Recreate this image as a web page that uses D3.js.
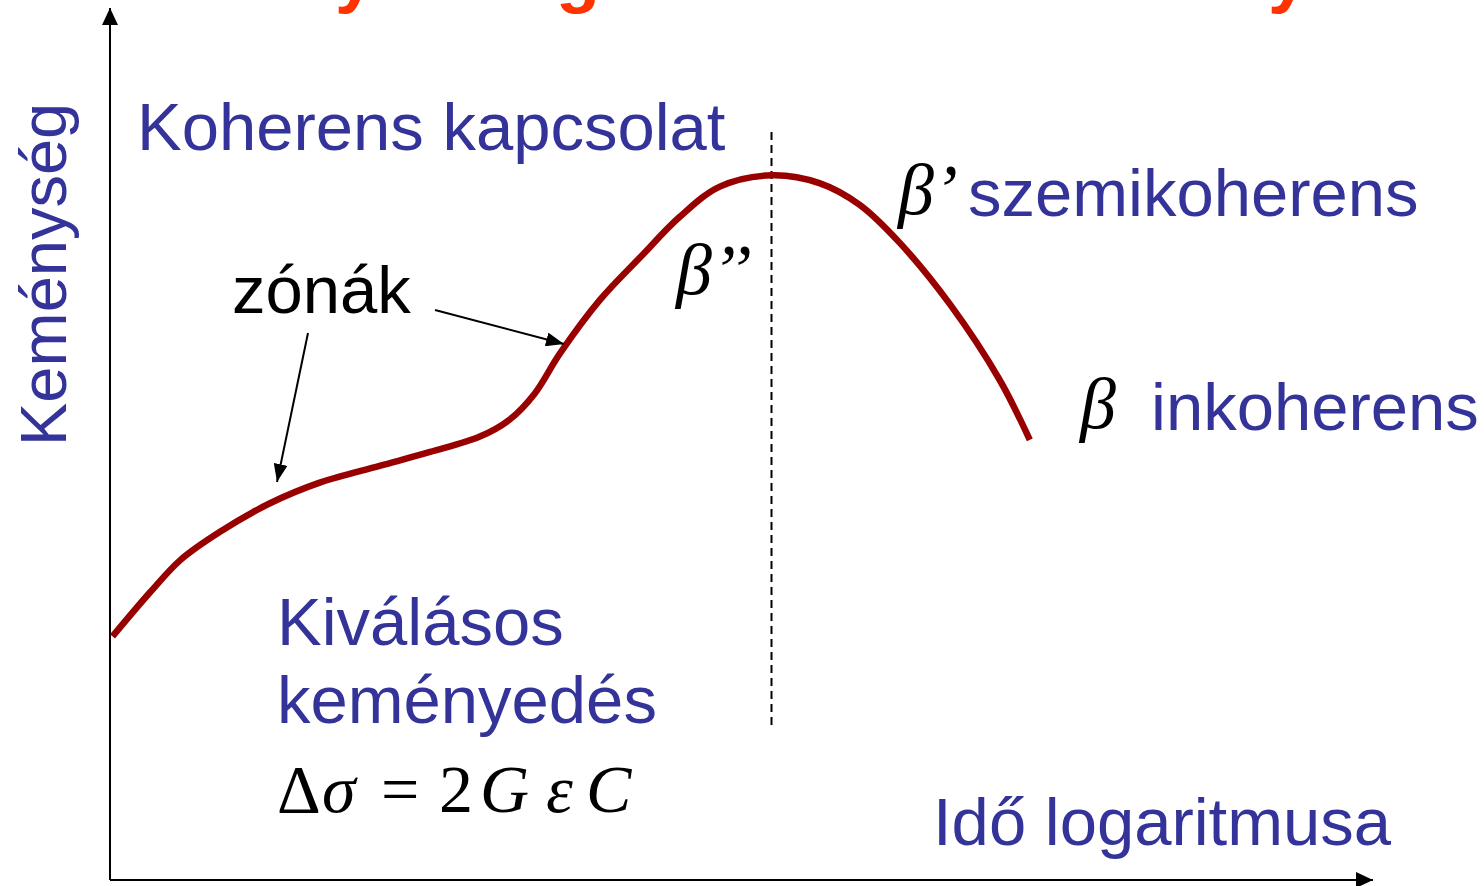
<!DOCTYPE html>
<html>
<head>
<meta charset="utf-8">
<script src="https://cdn.jsdelivr.net/npm/d3@7"></script>
<style>
  body { margin: 0; background: #fff; }
  svg { display: block; }
  .sans { font-family: "Liberation Sans", Arial, sans-serif; }
  .serif { font-family: "Liberation Serif", "Times New Roman", serif; }
</style>
</head>
<body>
<script>
// time (arbitrary log units) vs hardness (arbitrary units)
var timeVals = [0.2, 3.2, 5.6, 8.7, 12.7, 16.7, 21.4, 25.4, 29.4, 31.7, 33.7, 35.7, 38.9, 42.1, 45.2, 48.4, 52.5, 56.3, 59.5, 62.7, 66.7, 70.6, 73.0];
var hardVals = [28.0, 33.1, 36.8, 40.0, 43.3, 45.7, 47.6, 49.2, 51.0, 52.9, 55.9, 60.5, 66.7, 71.6, 76.2, 79.7, 81.0, 80.1, 77.6, 73.2, 66.1, 57.5, 50.6];
var peakTime = 52.5;

var width = 1484;
var height = 886;

var svg = d3.select("body")
    .append("svg")
    .attr("width", width)
    .attr("height", height);

var x = d3.scaleLinear().domain([0, 100]).range([110, 1370]);
var y = d3.scaleLinear().domain([0, 100]).range([880, 10]);

var blue = "#333399";

// arrowhead markers
var defs = svg.append("defs");
function addMarker(id, w, l) {
    defs.append("marker")
        .attr("id", id)
        .attr("viewBox", "0 0 " + l + " " + w)
        .attr("refX", l)
        .attr("refY", w / 2)
        .attr("markerUnits", "userSpaceOnUse")
        .attr("markerWidth", l)
        .attr("markerHeight", w)
        .attr("orient", "auto")
        .append("path")
        .attr("d", "M0,0L" + l + "," + (w / 2) + "L0," + w + "Z")
        .attr("fill", "#000");
}
addMarker("axisArrow", 16, 17);
addMarker("smallArrow", 14, 18);

// red title, cut off at the top of the slide (only descenders show)
var title = svg.append("text")
    .attr("class", "sans")
    .attr("y", -1)
    .attr("font-size", 72)
    .attr("font-weight", "bold")
    .attr("fill", "#FF3300");
title.append("tspan").attr("x", 95).text("Keményedés");
title.append("tspan").attr("x", 556).text("görbe és kiválás");
title.append("tspan").attr("x", 1180).text("folyamat");

// axes: no ticks, only the arrowed domain lines
var yAxis = svg.append("g")
    .attr("transform", "translate(" + x(0) + ",0)")
    .call(d3.axisLeft(y).tickValues([]).tickSizeOuter(0));
yAxis.select(".domain")
    .attr("stroke-width", 2)
    .attr("marker-end", "url(#axisArrow)")
    .attr("d", "M0," + y(0) + "V" + (y(100) - 2));

var xAxis = svg.append("g")
    .attr("transform", "translate(0," + y(0) + ")")
    .call(d3.axisBottom(x).tickValues([]).tickSizeOuter(0));
xAxis.select(".domain")
    .attr("stroke-width", 2)
    .attr("marker-end", "url(#axisArrow)")
    .attr("d", "M" + x(0) + ",0H" + (x(100) + 3));

// dashed line at the peak
svg.append("line")
    .attr("x1", x(peakTime)).attr("x2", x(peakTime))
    .attr("y1", 132).attr("y2", 728)
    .attr("stroke", "#000")
    .attr("stroke-width", 2)
    .attr("stroke-dasharray", "8,5");

// hardness curve
var pts = timeVals.map(function (t, i) { return [t, hardVals[i]]; });
var line = d3.line()
    .x(function (d) { return x(d[0]); })
    .y(function (d) { return y(d[1]); })
    .curve(d3.curveCatmullRom.alpha(0.5));

svg.append("path")
    .datum(pts)
    .attr("d", line)
    .attr("fill", "none")
    .attr("stroke", "#990000")
    .attr("stroke-width", 6.5)
    .attr("stroke-linejoin", "round");

// "zónák" pointer arrows
svg.append("line")
    .attr("x1", 435).attr("y1", 310).attr("x2", 564).attr("y2", 344)
    .attr("stroke", "#000").attr("stroke-width", 2)
    .attr("marker-end", "url(#smallArrow)");
svg.append("line")
    .attr("x1", 308).attr("y1", 333).attr("x2", 277).attr("y2", 482)
    .attr("stroke", "#000").attr("stroke-width", 2)
    .attr("marker-end", "url(#smallArrow)");

// labels
function label(txt, px, py, color, size) {
    return svg.append("text")
        .attr("class", "sans")
        .attr("x", px).attr("y", py)
        .attr("font-size", size || 67)
        .attr("fill", color || blue)
        .text(txt);
}

svg.append("text")
    .attr("class", "sans")
    .attr("transform", "translate(66,446) rotate(-90)")
    .attr("font-size", 65)
    .attr("fill", blue)
    .text("Keménység");

label("Koherens kapcsolat", 137, 150);
label("zónák", 232, 313, "#000");
label("szemikoherens", 968, 216);
label("inkoherens", 1151, 430);
label("Kiválásos", 277, 645);
label("keményedés", 277, 723);
label("Idő logaritmusa", 933, 845);

function greek(txt, px, py, size) {
    return svg.append("text")
        .attr("class", "serif")
        .attr("x", px).attr("y", py)
        .attr("font-size", size || 72)
        .attr("font-style", "italic")
        .attr("fill", "#000")
        .text(txt);
}
greek("β’’", 676, 294);
greek("β’", 898, 214);
greek("β", 1080, 428);

// formula
var f = svg.append("text")
    .attr("class", "serif")
    .attr("y", 812)
    .attr("font-size", 68)
    .attr("fill", "#000");
f.append("tspan").attr("x", 277).text("Δ");
f.append("tspan").attr("x", 322).attr("font-style", "italic").text("σ");
f.append("tspan").attr("x", 381).text("=");
f.append("tspan").attr("x", 439).text("2");
f.append("tspan").attr("x", 480).attr("font-style", "italic").text("G");
f.append("tspan").attr("x", 546).attr("font-style", "italic").text("ε");
f.append("tspan").attr("x", 586).attr("font-style", "italic").text("C");
</script>
</body>
</html>
